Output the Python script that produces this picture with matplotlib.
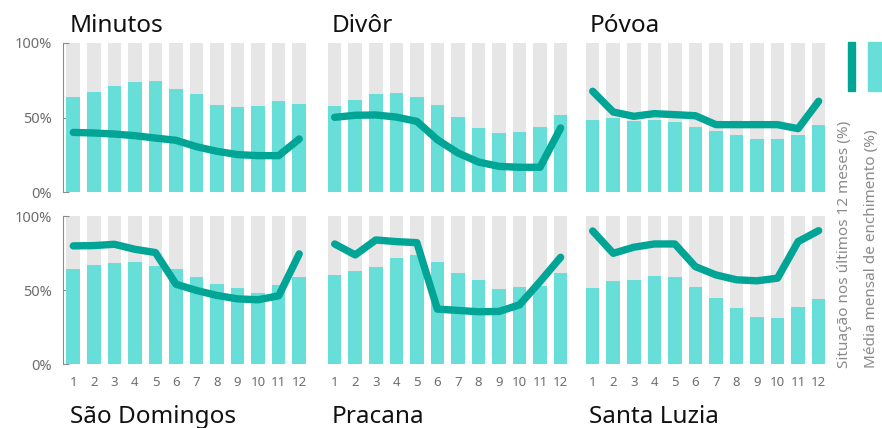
import numpy as np
import matplotlib.pyplot as plt

plt.rcParams["font.family"] = ["Noto Sans", "DejaVu Sans"]

months = np.arange(1, 13)
month_labels = [str(m) for m in months]

names = ["Minutos", "Divôr", "Póvoa", "São Domingos", "Pracana", "Santa Luzia"]

# Média mensal de enchimento (%)
avg_minutos = [64.0, 66.9, 71.4, 74.0, 74.7, 69.4, 65.8, 58.6, 57.3, 57.9, 61.1, 59.3]
avg_divor = [57.9, 62.0, 66.0, 66.4, 64.0, 58.6, 50.3, 43.2, 39.6, 40.5, 43.8, 51.5]
avg_povoa = [48.5, 49.9, 47.9, 48.5, 47.2, 43.8, 40.7, 38.5, 35.8, 35.8, 38.5, 45.0]
avg_sdomingos = [64.0, 66.7, 68.5, 69.0, 66.3, 64.0, 58.9, 54.2, 51.2, 48.1, 53.5, 59.1]
avg_pracana = [60.0, 62.9, 65.6, 71.7, 73.7, 69.0, 61.6, 56.9, 50.6, 51.9, 53.0, 61.6]
avg_sluzia = [51.5, 56.0, 56.9, 59.3, 58.9, 52.1, 44.5, 38.0, 31.5, 31.2, 38.7, 44.0]

# Situação nos últimos 12 meses (%)
cur_minutos = [40.0, 39.6, 38.9, 37.8, 36.2, 34.7, 30.4, 27.3, 25.1, 24.4, 24.4, 35.6]
cur_divor = [50.1, 51.5, 51.7, 50.3, 47.4, 35.1, 26.2, 20.1, 17.2, 16.6, 16.6, 43.0]
cur_povoa = [67.6, 53.7, 50.8, 52.6, 51.9, 51.2, 45.2, 45.2, 45.2, 45.2, 42.5, 60.9]
cur_sdomingos = [79.8, 80.0, 80.9, 77.5, 75.3, 53.9, 49.7, 46.3, 44.0, 43.4, 46.1, 74.4]
cur_pracana = [81.1, 73.7, 83.8, 82.7, 82.0, 37.1, 36.2, 35.3, 35.5, 40.0, 55.7, 72.1]
cur_sluzia = [89.9, 74.8, 78.9, 81.1, 81.1, 65.8, 60.2, 56.9, 56.2, 58.0, 82.7, 90.1]

averages = [avg_minutos, avg_divor, avg_povoa, avg_sdomingos, avg_pracana, avg_sluzia]
currents = [cur_minutos, cur_divor, cur_povoa, cur_sdomingos, cur_pracana, cur_sluzia]

GRAY_BG = "#e6e6e6"
CYAN = "#67ded8"
TEAL = "#00a596"
TXT = "#6e6e6e"

W, H = 882, 428
fig = plt.figure(figsize=(W / 100, H / 100), dpi=100)

lefts = [63, 324.4, 582.4]
aw = 246.5
rows = [(43, 192), (216, 364)]

for i, name in enumerate(names):
    r, c = divmod(i, 3)
    top, bot = rows[r]
    ax = fig.add_axes([lefts[c] / W, 1 - bot / H, aw / W, (bot - top) / H])
    ax.bar(months, [100] * 12, width=0.66, color=GRAY_BG, zorder=1)
    ax.bar(months, averages[i], width=0.66, color=CYAN, zorder=2)
    ax.plot(months, currents[i], color=TEAL, lw=5.3, solid_capstyle="round",
            solid_joinstyle="round", zorder=3)
    ax.set_xlim(0.5, 12.5)
    ax.set_ylim(0, 100)
    for s in ["top", "right", "bottom"]:
        ax.spines[s].set_visible(False)
    if c == 0:
        ax.spines["left"].set_color("#8c8c8c")
        ax.set_yticks([0, 50, 100])
        ax.set_yticklabels(["0%", "50%", "100%"])
        ax.tick_params(axis="y", direction="in", length=4, color="#8c8c8c",
                       labelsize=10.5, labelcolor=TXT, pad=8)
    else:
        ax.spines["left"].set_visible(False)
        ax.set_yticks([])
    ax.set_xticks(months)
    if r == 1:
        ax.set_xticklabels(month_labels)
        ax.tick_params(axis="x", length=0, labelsize=9.5, labelcolor=TXT, pad=9)
    else:
        ax.set_xticklabels([])
        ax.tick_params(axis="x", length=0)
    tx = (lefts[c] + 7) / W
    base = 32 if r == 0 else 423
    fig.text(tx, 1 - base / H, name, fontsize=17.5, color="#111111",
             ha="left", va="baseline")

# legend
fig.patches.append(plt.Rectangle((848 / W, 1 - 91 / H), 7 / W, 49 / H,
                                 transform=fig.transFigure, color=TEAL))
fig.patches.append(plt.Rectangle((868 / W, 1 - 91 / H), 14 / W, 49 / H,
                                 transform=fig.transFigure, color=CYAN))
fig.text(844 / W, 1 - 368 / H, "Situação nos últimos 12 meses (%)", rotation=90,
         ha="center", va="bottom", fontsize=11, color="#8a8a8a")
fig.text(871 / W, 1 - 368 / H, "Média mensal de enchimento (%)", rotation=90,
         ha="center", va="bottom", fontsize=11, color="#8a8a8a")

fig.savefig("out.png", dpi=100)
